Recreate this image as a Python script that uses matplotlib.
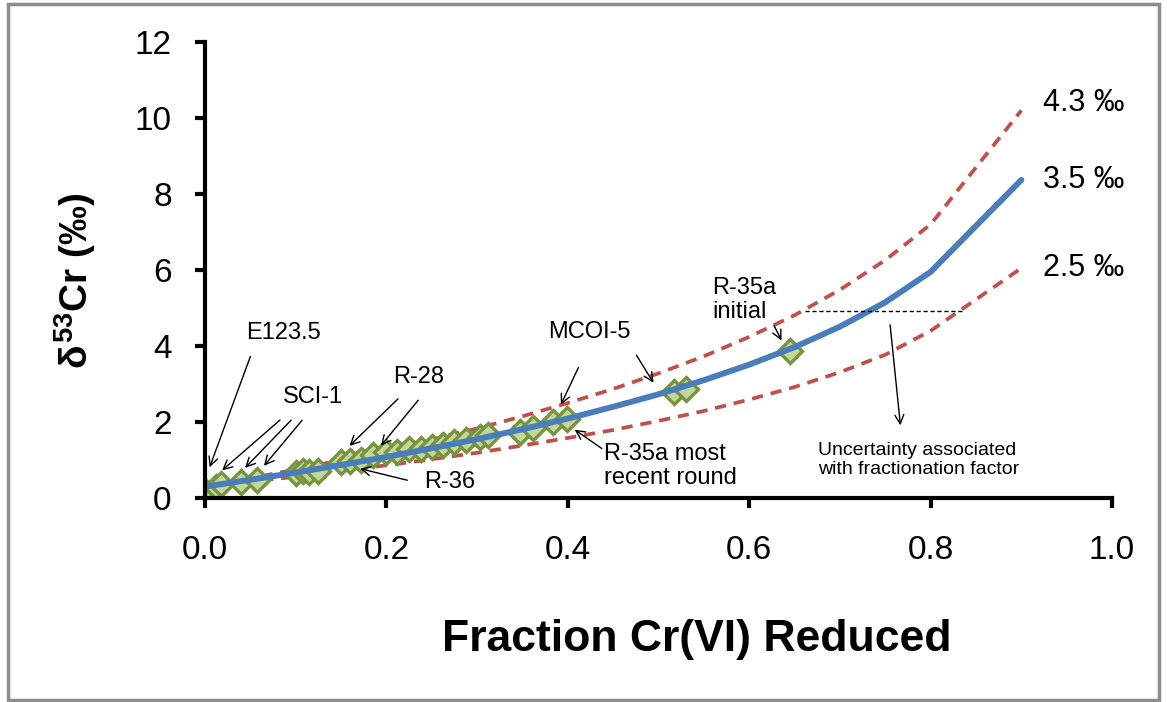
import matplotlib
matplotlib.use("Agg")
import matplotlib.pyplot as plt
from matplotlib.patches import Rectangle

plt.rcParams["font.family"] = ["Liberation Sans", "DejaVu Sans"]
plt.rcParams["mathtext.fontset"] = "custom"
plt.rcParams["mathtext.rm"] = "Liberation Sans:bold"
plt.rcParams["mathtext.it"] = "Liberation Sans:bold"
plt.rcParams["mathtext.bf"] = "Liberation Sans:bold"

# Rayleigh model curves (fraction reduced vs delta53Cr)
frac = [0.0, 0.05, 0.1, 0.15, 0.2, 0.25, 0.3, 0.35, 0.4, 0.45, 0.5,
        0.55, 0.6, 0.65, 0.7, 0.75, 0.8, 0.9]
model_35 = [0.30, 0.48, 0.67, 0.87, 1.08, 1.31, 1.55, 1.81, 2.09, 2.40, 2.73,
            3.10, 3.51, 3.97, 4.51, 5.15, 5.95, 8.37]
model_43 = [0.30, 0.52, 0.75, 1.00, 1.26, 1.54, 1.83, 2.15, 2.50, 2.87, 3.28,
            3.73, 4.24, 4.81, 5.48, 6.26, 7.20, 10.20]
model_25 = [0.30, 0.43, 0.56, 0.71, 0.86, 1.02, 1.19, 1.38, 1.58, 1.79, 2.03,
            2.29, 2.59, 2.92, 3.31, 3.77, 4.40, 6.05]

# measured samples
sample_f = [0.000, 0.012, 0.018, 0.040, 0.057, 0.100, 0.108, 0.115, 0.125,
            0.150, 0.160, 0.172, 0.185, 0.200, 0.212, 0.225, 0.238, 0.250,
            0.262, 0.275, 0.288, 0.303, 0.312, 0.347, 0.362, 0.384, 0.399,
            0.517, 0.530, 0.645]
sample_d = [0.18, 0.30, 0.36, 0.42, 0.47, 0.66, 0.70, 0.68, 0.72,
            0.95, 0.98, 1.00, 1.12, 1.20, 1.22, 1.28, 1.30, 1.35,
            1.40, 1.48, 1.52, 1.60, 1.66, 1.74, 1.84, 2.00, 2.08,
            2.79, 2.88, 3.86]

curve_labels = ["4.3 \u2030", "3.5 \u2030", "2.5 \u2030"]

blue = "#4a7ebb"
red = "#c0504d"

fig = plt.figure(figsize=(11.67, 7.02), dpi=100)
fig.patches.append(Rectangle((0.007, 0.003), 0.986, 0.991, transform=fig.transFigure,
                             fill=False, edgecolor="#8c8c8c", linewidth=2.5))
ax = fig.add_axes([0.1757, 0.2906, 0.7772, 0.6496])

ax.plot(frac, model_43, "--", color=red, lw=2.7, dashes=(3, 2.1))
ax.plot(frac, model_25, "--", color=red, lw=2.7, dashes=(3, 2.1))
ax.plot(sample_f, sample_d, "D", markersize=12.5, markerfacecolor="#c3d69b",
        markeredgecolor="#77933c", markeredgewidth=2.4, linestyle="none")
ax.plot(frac, model_35, "-", color=blue, lw=4.3, solid_capstyle="round")

ax.set_xlim(0, 1.0)
ax.set_ylim(0, 12)
ax.set_xticks([0.0, 0.2, 0.4, 0.6, 0.8, 1.0])
ax.set_xticklabels(["0.0", "0.2", "0.4", "0.6", "0.8", "1.0"])
ax.set_yticks(range(0, 13, 2))
for s in ["top", "right"]:
    ax.spines[s].set_visible(False)
for s in ["left", "bottom"]:
    ax.spines[s].set_linewidth(3)
ax.tick_params(axis="both", direction="out", length=7, width=3, labelsize=24)
ax.tick_params(axis="x", pad=20)
ax.tick_params(axis="y", pad=17)

ax.set_xlabel("Fraction Cr(VI) Reduced", fontsize=32, fontweight="bold")
ax.xaxis.set_label_coords(0.542, -0.311)
ax.xaxis.label.set_va("center")
ax.set_ylabel("$\\delta^{53}$Cr (\u2030)", fontsize=28, fontweight="bold")
ax.yaxis.set_label_coords(-0.143, 0.476)
ax.yaxis.label.set_va("center")

# curve labels
for lab, y in zip(curve_labels, [10.39, 8.37, 6.05]):
    ax.text(0.924, y, lab, fontsize=22, va="center", ha="left")

arr = dict(arrowstyle="->", color="black", lw=1, mutation_scale=16)
fs = 17


def point(tip, start):
    ax.annotate("", xy=tip, xytext=start, arrowprops=arr)


ax.text(0.086, 4.34, "E123.5", fontsize=fs, ha="center", va="center")
point((0.004, 0.74), (0.051, 3.79))

ax.text(0.119, 2.66, "SCI-1", fontsize=fs, ha="center", va="center")
point((0.0165, 0.68), (0.085, 2.10))
point((0.042, 0.74), (0.097, 2.10))
point((0.063, 0.79), (0.109, 2.10))

ax.text(0.235, 3.18, "R-28", fontsize=fs, ha="center", va="center")
point((0.157, 1.32), (0.215, 2.66))
point((0.192, 1.32), (0.237, 2.63))

ax.text(0.27, 0.42, "R-36", fontsize=fs, ha="center", va="center")
point((0.168, 0.79), (0.226, 0.45))

ax.text(0.424, 4.37, "MCOI-5", fontsize=fs, ha="center", va="center")
point((0.391, 2.39), (0.413, 3.50))
point((0.496, 2.97), (0.474, 3.82))

ax.text(0.44, 0.84, "R-35a most\nrecent round", fontsize=fs, ha="left",
        va="center", linespacing=1.15)
point((0.405, 1.84), (0.44, 1.26))

ax.text(0.559, 5.21, "R-35a\ninitial", fontsize=fs, ha="left", va="center",
        linespacing=1.15)
point((0.637, 4.08), (0.626, 4.60))

ax.plot([0.662, 0.835], [4.92, 4.92], "--", color="black", lw=1, dashes=(3, 2))
point((0.767, 1.84), (0.755, 4.63))
ax.text(0.676, 1.0, "Uncertainty associated\nwith fractionation factor",
        fontsize=14, ha="left", va="center", linespacing=1.2)

fig.savefig("out.png", dpi=100)
